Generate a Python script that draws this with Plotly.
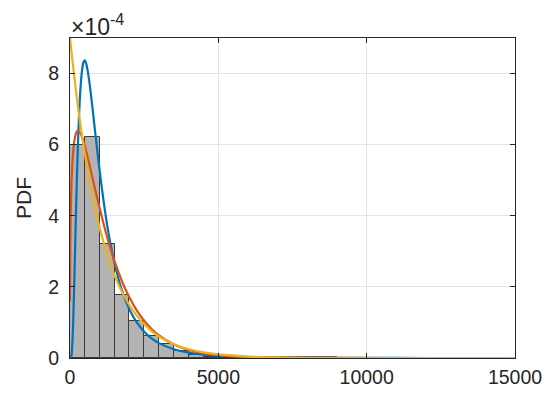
import plotly.graph_objects as go

# ---- data (PDF values) ----
bin_width = 500
bin_left = [0, 500, 1000, 1500, 2000, 2500, 3000, 3500, 4000, 4500,
            5000, 5500, 6000, 6500, 7000, 7500, 8000, 8500, 9000, 9500,
            10000, 10500, 11000, 11500, 12000, 12500, 13000, 13500, 14000, 14500]
bin_pdf = [6.00e-4, 6.22e-4, 3.22e-4, 1.77e-4, 1.03e-4, 0.62e-4, 0.38e-4, 0.20e-4, 0.085e-4, 0.03e-4,
           0.05e-4, 0.04e-4, 0.03e-4, 0.03e-4, 0.02e-4, 0.02e-4, 0.02e-4, 0.015e-4, 0.01e-4, 0.01e-4,
           0.01e-4, 0.01e-4, 0.008e-4, 0.008e-4, 0.006e-4, 0.006e-4, 0.005e-4, 0.005e-4, 0.004e-4, 0.004e-4]

# blue fitted curve
blue_x = [0, 25, 50, 75, 100, 125, 150, 175, 200, 225, 250, 275, 300, 325, 350, 400, 450, 500,
          550, 600, 650, 700, 750, 800, 900, 1000, 1200, 1400, 1600, 1800, 2000, 2250, 2500,
          2750, 3000, 3500, 4000, 4500, 5000, 6000, 7000, 8000, 10000, 12000, 15000]
blue_y = [0, 0.003, 0.072, 0.335, 0.833, 1.52, 2.33, 3.18, 4.02, 4.81, 5.53, 6.17, 6.72, 7.18, 7.55,
          8.05, 8.31, 8.37, 8.27, 8.06, 7.78, 7.45, 7.09, 6.72, 5.97, 5.26, 4.02, 3.06, 2.33, 1.78,
          1.37, 1.00, 0.741, 0.553, 0.418, 0.245, 0.149, 0.094, 0.061, 0.027, 0.013, 0.0068,
          0.0021, 0.0007, 0.0002]

# red (orange) fitted curve
red_x = [1, 5, 10, 25, 50, 100, 150, 200, 250, 300, 350, 400, 500, 600, 700, 800, 1000, 1200,
         1400, 1600, 1800, 2000, 2250, 2500, 2750, 3000, 3500, 4000, 4500, 5000, 6000, 7000,
         8000, 10000, 12000, 15000]
red_y = [1.61, 2.59, 3.18, 4.11, 4.92, 5.73, 6.12, 6.31, 6.39, 6.38, 6.32, 6.23, 5.96, 5.63,
         5.28, 4.91, 4.21, 3.56, 2.98, 2.49, 2.06, 1.71, 1.338, 1.046, 0.815, 0.634, 0.381,
         0.227, 0.135, 0.080, 0.028, 0.0096, 0.0033, 0.0004, 0.0, 0.0]

# yellow fitted curve
yel_x = [0, 100, 200, 300, 400, 500, 600, 700, 800, 1000, 1200, 1400, 1600, 1800, 2000, 2250,
         2500, 2750, 3000, 3500, 4000, 4500, 5000, 6000, 7000, 8000, 10000, 12000, 15000]
yel_y = [9.0, 8.23, 7.52, 6.87, 6.28, 5.74, 5.24, 4.79, 4.38, 3.66, 3.06, 2.55, 2.13, 1.78,
         1.49, 1.19, 0.949, 0.758, 0.605, 0.386, 0.246, 0.157, 0.100, 0.041, 0.0165, 0.0067,
         0.0011, 0.0002, 0.0]

scale = 1e-4
y_ticks = [0, 2, 4, 6, 8]
x_ticks = [0, 5000, 10000, 15000]

AX = "#262626"
FONT = "Liberation Sans, Arial, Helvetica, sans-serif"

fig = go.Figure()
fig.add_trace(go.Bar(
    x=bin_left, y=bin_pdf, width=bin_width, offset=0,
    marker=dict(color="#b3b3b3", line=dict(color="#3a3a3a", width=1)),
    showlegend=False,
))
fig.add_trace(go.Scatter(x=blue_x, y=[v * scale for v in blue_y], mode="lines",
                         line=dict(color="#0072BD", width=2.2, shape="spline", smoothing=0.6),
                         showlegend=False))
fig.add_trace(go.Scatter(x=red_x, y=[v * scale for v in red_y], mode="lines",
                         line=dict(color="#D95319", width=2.2, shape="spline", smoothing=0.6),
                         showlegend=False))
fig.add_trace(go.Scatter(x=yel_x, y=[v * scale for v in yel_y], mode="lines",
                         line=dict(color="#EDB120", width=2.2, shape="spline", smoothing=0.6),
                         showlegend=False))

fig.update_layout(
    width=546, height=395,
    margin=dict(l=70, r=31, t=38, b=37),
    paper_bgcolor="white", plot_bgcolor="white",
    font=dict(family=FONT, size=19, color=AX),
    bargap=0,
    xaxis=dict(range=[0, 15000], tickvals=x_ticks, ticktext=[str(t) for t in x_ticks],
               ticks="inside", ticklen=5, tickcolor=AX, tickwidth=1,
               showline=True, linecolor=AX, linewidth=1, mirror="ticks",
               showgrid=True, gridcolor="#e3e3e3", gridwidth=1, zeroline=False,
               automargin=False, ticklabelstandoff=2,
               tickfont=dict(size=19.5, color=AX)),
    yaxis=dict(range=[0, 9e-4], tickvals=[t * scale for t in y_ticks],
               ticktext=[str(t) for t in y_ticks],
               ticks="inside", ticklen=5, tickcolor=AX, tickwidth=1,
               showline=True, linecolor=AX, linewidth=1, mirror="ticks",
               showgrid=True, gridcolor="#e3e3e3", gridwidth=1, zeroline=False,
               automargin=False, ticklabelstandoff=6,
               tickfont=dict(size=19.5, color=AX),
               title=dict(text="PDF", font=dict(size=21, color=AX), standoff=10)),
    annotations=[dict(text="×10<sup>-4</sup>", x=0, y=1, xref="paper", yref="paper",
                      xanchor="left", yanchor="bottom", showarrow=False, xshift=-1, yshift=-4,
                      font=dict(size=23, color=AX))],
)

fig.write_html("out.html")
